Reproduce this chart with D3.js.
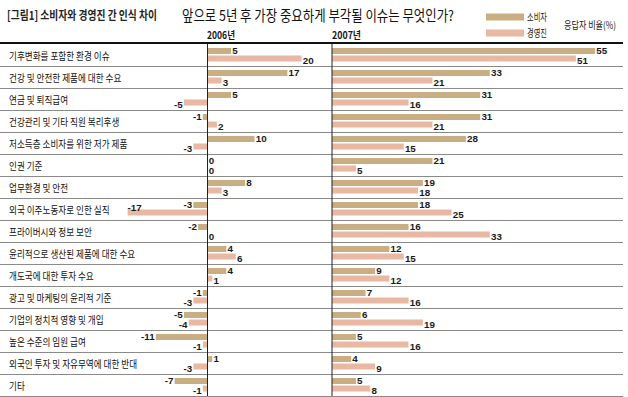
<!DOCTYPE html>
<html>
<head>
<meta charset="utf-8">
<script src="https://cdn.jsdelivr.net/npm/d3@7/dist/d3.min.js"></script>
<style>
  html, body { margin: 0; padding: 0; background: #fff; }
  svg { display: block; }
</style>
</head>
<body>
<svg id="chart" width="628" height="397"></svg>
<script>
'use strict';

/* ── Data ─────────────────────────────────────────────────── */
const categories = [
  '기후변화를 포함한 환경 이슈',
  '건강 및 안전한 제품에 대한 수요',
  '연금 및 퇴직급여',
  '건강관리 및 기타 직원 복리후생',
  '저소득층 소비자를 위한 저가 제품',
  '인권 기준',
  '업무환경 및 안전',
  '외국 이주노동자로 인한 실직',
  '프라이버시와 정보 보안',
  '윤리적으로 생산된 제품에 대한 수요',
  '개도국에 대한 투자 수요',
  '광고 및 마케팅의 윤리적 기준',
  '기업의 정치적 영향 및 개입',
  '높은 수준의 임원 급여',
  '외국인 투자 및 자유무역에 대한 반대',
  '기타'
];
const seriesNames   = ['소비자', '경영진'];
const consumer2006  = [5, 17, 5, -1, 10, 0, 8, -3, -2, 4, 4, -1, -5, -11, 1, -7];
const exec2006      = [20, 3, -5, 2, -3, 0, 3, -17, 0, 6, 1, -3, -4, -1, -3, -1];
const consumer2007  = [55, 33, 31, 31, 28, 21, 19, 18, 16, 12, 9, 7, 6, 5, 4, 5];
const exec2007      = [51, 21, 16, 21, 15, 5, 18, 25, 33, 15, 12, 16, 19, 16, 9, 8];
const yearLabels    = ['2006년', '2007년'];

const COLORS = { '소비자': '#c9ad83', '경영진': '#e9b8a3' };
const KFONT  = '"Noto Sans CJK KR", "Noto Sans", sans-serif';
const NFONT  = '"Liberation Sans Narrow", "Arial Narrow", "Liberation Sans", sans-serif';

const svg = d3.select('#chart');
const TOP = 44, ROW_H = 22, RIGHT = 623;

/* ── Scales ── */
const yRow = d3.scaleBand()
  .domain(categories)
  .range([TOP, TOP + categories.length * ROW_H]);

const ySer = d3.scaleBand()
  .domain(seriesNames)
  .range([4, 17.5])
  .paddingInner(0.2);

const x06 = d3.scaleLinear().domain([-20, 20]).range([207.5 - 94, 207.5 + 94]);
const x07 = d3.scaleLinear().domain([0, 55]).range([332, 595]);

/* ── Condensed Korean text helper ── */
function ktext(x, y, str, opts = {}) {
  const t = svg.append('text')
    .attr('x', x).attr('y', y)
    .attr('font-family', KFONT)
    .attr('font-size', opts.size || 10)
    .attr('font-weight', opts.weight || 'normal')
    .attr('fill', opts.fill || '#1a1a1a')
    .text(str);
  if (opts.len) t.attr('textLength', opts.len).attr('lengthAdjust', 'spacingAndGlyphs');
  if (opts.sx) t.attr('transform', `translate(${x},0) scale(${opts.sx},1) translate(${-x},0)`);
  return t;
}

/* ── Titles & legend ── */
ktext(7, 19.5, '[그림1] 소비자와 경영진 간 인식 차이', { size: 12, weight: 'bold', len: 150, fill: '#222' });
ktext(182, 20.5, '앞으로 5년 후 가장 중요하게 부각될 이슈는 무엇인가?', { size: 14.5, len: 272, fill: '#111' });

seriesNames.forEach((s, i) => {
  svg.append('rect')
    .attr('x', 486).attr('y', 13.5 + i * 16)
    .attr('width', 38).attr('height', 7)
    .attr('fill', COLORS[s]);
  ktext(527, 20.5 + i * 16, s, { size: 10, len: 20 });
});
ktext(564, 28.5, '응답자 비율(%)', { size: 10, len: 52 });

ktext(207, 39, yearLabels[0], { size: 10.5, len: 28, weight: 'bold' });
ktext(332, 39, yearLabels[1], { size: 10.5, len: 29, weight: 'bold' });

/* ── Row separators ── */
categories.forEach((c) => {
  svg.append('line')
    .attr('x1', 0).attr('x2', RIGHT)
    .attr('y1', yRow(c) + ROW_H + 0.5).attr('y2', yRow(c) + ROW_H + 0.5)
    .attr('stroke', '#8a8a8a').attr('stroke-width', 1);
});

/* ── Category labels ── */
categories.forEach((c) => {
  ktext(9, yRow(c) + 15.8, c, { size: 10, sx: 0.86, fill: '#111' });
});

/* ── Bars ── */
function drawPanel(xs, cons, exec) {
  const x0 = xs(0);
  categories.forEach((c, i) => {
    const vals = [cons[i], exec[i]];
    seriesNames.forEach((s, si) => {
      const v  = vals[si];
      const by = yRow(c) + ySer(s);
      const bh = ySer.bandwidth();
      const xa = Math.min(xs(0), xs(v));
      const bw = Math.abs(xs(v) - xs(0));
      if (bw > 0) {
        svg.append('rect')
          .attr('x', xa).attr('y', by)
          .attr('width', bw).attr('height', bh)
          .attr('fill', COLORS[s]);
      }
      const base = by + bh + (si === 0 ? 0.3 : 2);
      const lbl = svg.append('text')
        .attr('font-family', NFONT).attr('font-weight', 'bold')
        .attr('font-size', 9.8).attr('fill', '#1a1a1a')
        .text(v);
      if (v >= 0) {
        lbl.attr('x', xs(v) + 1.2).attr('y', base).attr('text-anchor', 'start');
      } else if (xs(v) < 140) {
        /* long negative bar: tuck label above its left end */
        lbl.attr('x', xs(v)).attr('y', by + 1.5).attr('text-anchor', 'start');
      } else {
        lbl.attr('x', xs(v) - 1.2).attr('y', base).attr('text-anchor', 'end');
      }
    });
  });
  /* zero axis */
  svg.append('line')
    .attr('x1', x0).attr('x2', x0)
    .attr('y1', TOP).attr('y2', TOP + categories.length * ROW_H)
    .attr('stroke', '#222').attr('stroke-width', 1);
}

drawPanel(x06, consumer2006, exec2006);
drawPanel(x07, consumer2007, exec2007);

/* ── Top rule ── */
svg.append('line')
  .attr('x1', 0).attr('x2', RIGHT)
  .attr('y1', 43).attr('y2', 43)
  .attr('stroke', '#111').attr('stroke-width', 2);
</script>
</body>
</html>
